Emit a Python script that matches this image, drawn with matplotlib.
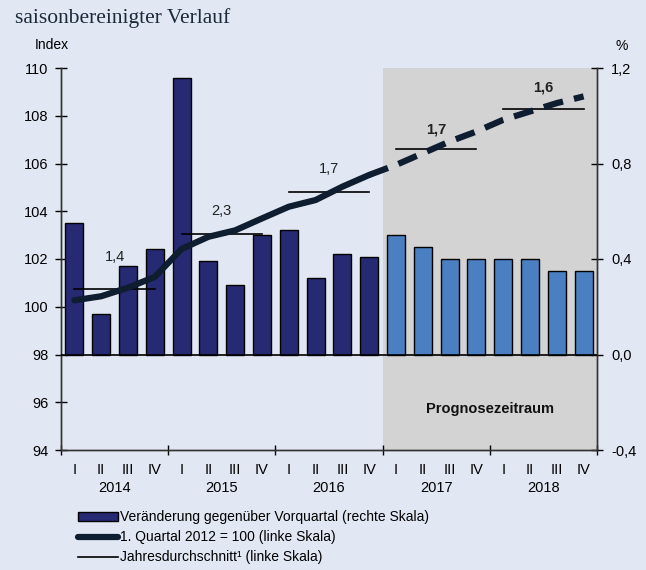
import matplotlib.pyplot as plt
import numpy as np
from matplotlib.patches import Patch
from matplotlib.lines import Line2D

plt.rcParams['font.family'] = ['Liberation Sans', 'DejaVu Sans']

# data
years = ['2014', '2015', '2016', '2017', '2018']
quarters = ['I', 'II', 'III', 'IV']
change_pct = [0.55, 0.17, 0.37, 0.44,
              1.16, 0.39, 0.29, 0.50,
              0.52, 0.32, 0.42, 0.41,
              0.50, 0.45, 0.40, 0.40,
              0.40, 0.40, 0.35, 0.35]
index_vals = [100.27, 100.44, 100.80, 101.25,
              102.42, 102.93, 103.20, 103.70,
              104.19, 104.47, 105.03, 105.52,
              105.94, 106.43, 106.92, 107.34,
              107.83, 108.18, 108.53, 108.81]
annual_avg = [100.73, 103.04, 104.79, 106.61, 108.30]
annual_growth = ['1,4', '2,3', '1,7', '1,7', '1,6']
n_actual = 12  # quarters up to 2016 IV are observed, rest is forecast

bg = '#E2E8F3'
bar_dark = '#262A72'
bar_light = '#4A7FC1'
line_col = '#0E1D30'

fig = plt.figure(figsize=(6.46, 5.7), dpi=100, facecolor=bg)
ax = fig.add_axes([61/646, 1 - 450/570, 536/646, 382/570])
ax.set_facecolor(bg)
ax2 = ax.twinx()

n = len(change_pct)
x = np.arange(n) + 0.5

# forecast shading
ax.axvspan(n_actual, n, color='#D3D3D3', zorder=0, lw=0)

# bars on right scale
colors = [bar_dark] * n_actual + [bar_light] * (n - n_actual)
ax2.bar(x, change_pct, width=0.67, color=colors, edgecolor='black', linewidth=1.0, zorder=2)
ax2.axhline(0, color='black', lw=1.2, zorder=3)

# index line (left scale) mapped onto right scale so it sits above the bars
def to_right(v):
    return (np.asarray(v) - 98) / 10.0

ax2.plot(x[:n_actual], to_right(index_vals[:n_actual]), color=line_col, lw=4.5,
         solid_capstyle='round', zorder=5)
ax2.plot(x[n_actual - 1:], to_right(index_vals[n_actual - 1:]), color=line_col, lw=4.5,
         dashes=(3.2, 1.8), zorder=5)

# annual averages with growth labels
label_off = [1.35, 0.95, 1.0, 0.8, 0.9]
for i, avg in enumerate(annual_avg):
    ax2.plot([4 * i + 0.5, 4 * i + 3.5], to_right([avg, avg]), color='black', lw=1.2, zorder=4)
    ax2.text(4 * i + 2, to_right(avg + label_off[i]), annual_growth[i], ha='center', va='center',
             fontsize=10.5, color='#222222', fontweight='bold' if i >= 3 else 'normal', zorder=6)

ax2.text(16, to_right(95.7), 'Prognosezeitraum', ha='center', va='center',
         fontsize=10.5, fontweight='bold', color='#111111', zorder=6)

# axes scales
ax.set_xlim(0, n)
ax.set_ylim(94, 110)
ax2.set_ylim(-0.4, 1.2)
ax.set_yticks(np.arange(94, 111, 2))
ax.set_yticklabels([str(v) for v in range(94, 111, 2)])
ax2.set_yticks([-0.4, 0.0, 0.4, 0.8, 1.2])
ax2.set_yticklabels(['-0,4', '0,0', '0,4', '0,8', '1,2'])

ax.set_xticks(np.arange(0, n + 1, 4))
ax.set_xticklabels([])
ax.set_xticks(x, minor=True)
ax.set_xticklabels(quarters * len(years), minor=True)
ax.tick_params(axis='x', which='minor', length=0, pad=9, labelsize=10.5)
ax.tick_params(axis='x', which='major', direction='inout', length=7, width=1)
ax.tick_params(axis='y', direction='inout', length=8, width=1, labelsize=10.5, pad=5)
ax2.tick_params(axis='y', direction='inout', length=8, width=1, labelsize=10.5, pad=6)
for i, yr in enumerate(years):
    ax.text(4 * i + 2, -0.1, yr, transform=ax.get_xaxis_transform(), ha='center',
            va='center', fontsize=10.5)

for a in (ax, ax2):
    a.spines['top'].set_visible(False)
    for s in ('left', 'right', 'bottom'):
        a.spines[s].set_linewidth(1.0)
        a.spines[s].set_color('#333333')

fig.text(35/646, 1 - 45/570, 'Index', fontsize=10, va='center', ha='left')
fig.text(622/646, 1 - 46/570, '%', fontsize=10, va='center', ha='center')
fig.text(15/646, 1 - 18/570, 'saisonbereinigter Verlauf', fontsize=15.5,
         family=['Liberation Serif', 'DejaVu Serif'], color='#1A2A3A', va='center', ha='left')

handles = [Patch(facecolor=bar_dark, edgecolor='black', linewidth=1.0),
           Line2D([0], [0], color=line_col, lw=4.5, solid_capstyle='round'),
           Line2D([0], [0], color='black', lw=1.2)]
labels = ['Veränderung gegenüber Vorquartal (rechte Skala)',
          '1. Quartal 2012 = 100 (linke Skala)',
          'Jahresdurchschnitt\u00b9 (linke Skala)']
fig.legend(handles, labels, loc='upper left', bbox_to_anchor=(78/646, 1 - 510/570),
           frameon=False, fontsize=10, handlelength=2.9, handleheight=0.6,
           handletextpad=0.15, labelspacing=0.45, borderaxespad=0, borderpad=0)

fig.savefig('out.png', dpi=100, facecolor=bg)
